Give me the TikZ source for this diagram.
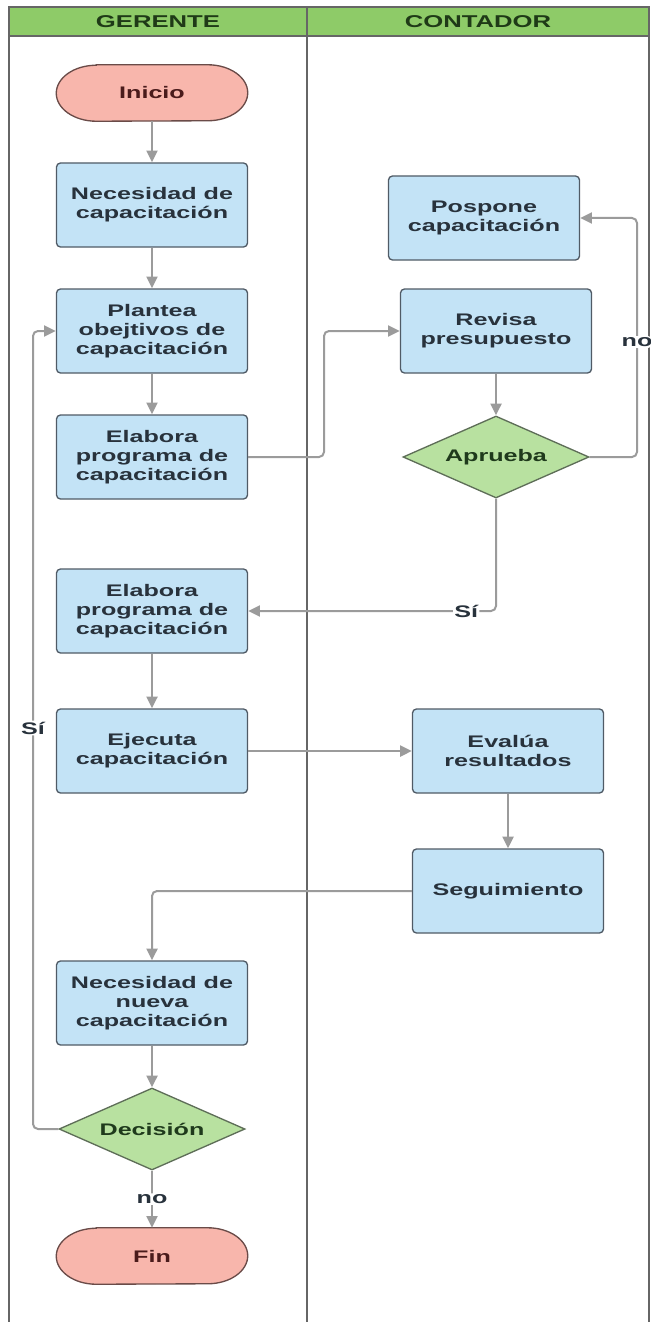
\documentclass[tikz,border=0pt]{standalone}
\usepackage{fontspec}
\setmainfont{Liberation Sans}[FakeStretch=1.5]
\usetikzlibrary{shapes.geometric,arrows.meta,backgrounds}
\definecolor{hdrfill}{HTML}{8ECB68}
\definecolor{hdrtext}{HTML}{1F3A17}
\definecolor{laneline}{HTML}{666666}
\definecolor{boxfill}{HTML}{C3E3F6}
\definecolor{boxline}{HTML}{505B66}
\definecolor{boxtext}{HTML}{28323C}
\definecolor{termfill}{HTML}{F8B6AC}
\definecolor{termline}{HTML}{6A4B48}
\definecolor{termtext}{HTML}{4A1B1B}
\definecolor{decfill}{HTML}{B8E1A0}
\definecolor{decline}{HTML}{5E6E58}
\definecolor{dectext}{HTML}{1F3A1C}
\definecolor{flowgray}{HTML}{9B9B9B}
\newcommand{\nodefont}{\bfseries\fontsize{14.3}{16}\selectfont}
\tikzset{
  lane/.style={draw=laneline, line width=0.45mm},
  hdr/.style={text=hdrtext, font=\bfseries\fontsize{14.6}{16}\selectfont},
  proc/.style={draw=boxline, fill=boxfill, text=boxtext, line width=0.4mm, rounded corners=1.2mm,
    minimum width=57.3mm, minimum height=25.2mm, inner sep=0pt, align=center, font=\nodefont},
  term/.style={minimum width=57.3mm, minimum height=16.8mm, inner sep=0pt, text=termtext, font=\nodefont},
  termbox/.style={draw=termline, fill=termfill, line width=0.4mm},
  deci/.style={diamond, aspect=2.27, draw=decline, fill=decfill, text=dectext, line width=0.4mm,
    minimum width=55.8mm, minimum height=24.6mm, inner sep=0pt, font=\nodefont},
  flow/.style={draw=flowgray, line width=0.6mm, rounded corners=1.5mm, -{Triangle[length=3.5mm,width=3.3mm]}},
  lbl/.style={fill=white, inner sep=1pt, text=boxtext, font=\nodefont},
}
\begin{document}
\begin{tikzpicture}[x=0.3mm, y=-0.3mm]
\useasboundingbox (0,0) rectangle (651,1322);
\filldraw[lane, fill=hdrfill] (9,7) rectangle (649,36);
\draw[lane] (9,36) -- (9,1322) (307,7) -- (307,1322) (649,36) -- (649,1322);
\node[hdr] (hger) at (158,22) {GERENTE};
\node[hdr] (hcon) at (478,22) {CONTADOR};

\node[term] (ini) at (152,93) {Inicio};
\node[proc] (nec) at (152,205) {Necesidad de\\capacitación};
\node[proc] (pla) at (152,331) {Plantea\\obejtivos de\\capacitación};
\node[proc] (ela1) at (152,457) {Elabora\\programa de\\capacitación};
\node[proc] (ela2) at (152,611) {Elabora\\programa de\\capacitación};
\node[proc] (eje) at (152,751) {Ejecuta\\capacitación};
\node[proc] (nue) at (152,1003) {Necesidad de\\nueva\\capacitación};
\node[deci] (dec) at (152,1129) {Decisión};
\node[term] (fin) at (152,1256) {Fin};
\node[proc] (pos) at (484,218) {Pospone\\capacitación};
\node[proc] (rev) at (496,331) {Revisa\\presupuesto};
\node[deci] (apr) at (496,457) {Aprueba};
\node[proc] (eva) at (508,751) {Evalúa\\resultados};
\node[proc] (seg) at (508,891) {Seguimiento};
\coordinate (k1) at (324,394);
\coordinate (k2) at (637,342);
\coordinate (k3) at (33,728);

\begin{scope}[on background layer]
\foreach \n in {ini,fin}
  \filldraw[termbox] ([xshift=12mm]\n.north west) -- ([xshift=-12mm]\n.north east)
    arc[start angle=90, end angle=-90, x radius=12mm, y radius=8.4mm]
    -- ([xshift=12mm]\n.south west)
    arc[start angle=270, end angle=90, x radius=12mm, y radius=8.4mm] -- cycle;
\end{scope}

\draw[flow] (ini) -- (nec);
\draw[flow] (nec) -- (pla);
\draw[flow] (pla) -- (ela1);
\draw[flow] (ela1.east) -| (k1) |- (rev.west);
\draw[flow] (rev) -- (apr);
\draw[flow] (apr.east) -| (k2) node[lbl] {no} |- (pos.east);
\draw[flow] (apr.south) |- node[lbl, pos=0.56] {Sí} (ela2.east);
\draw[flow] (ela2) -- (eje);
\draw[flow] (eje) -- (eva);
\draw[flow] (eva) -- (seg);
\draw[flow] (seg.west) -| (nue.north);
\draw[flow] (nue) -- (dec);
\draw[flow] (dec) -- node[lbl] {no} (fin);
\draw[flow] (dec.west) -| (k3) node[lbl] {Sí} |- (pla.west);
\end{tikzpicture}
\end{document}
